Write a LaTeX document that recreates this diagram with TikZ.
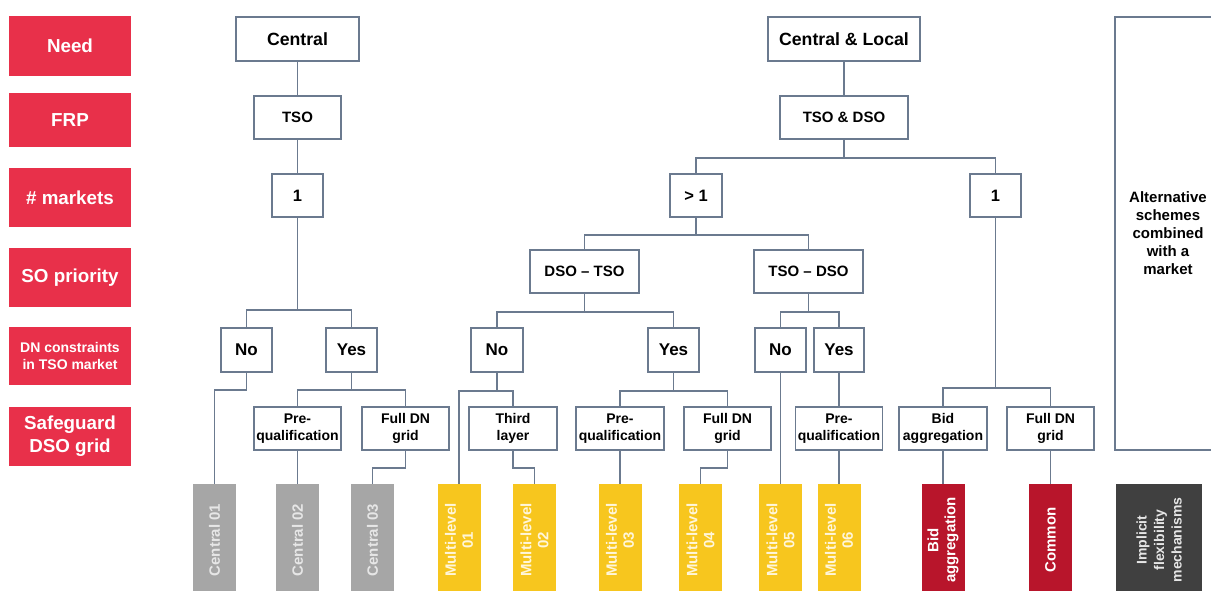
\documentclass[tikz,border=0pt]{standalone}
\usepackage{fontspec}
\setmainfont{Liberation Sans}
\usetikzlibrary{calc}
\definecolor{labelred}{HTML}{E8304A}
\definecolor{linegray}{HTML}{6B7A8F}
\definecolor{bargray}{HTML}{A6A6A6}
\definecolor{baryellow}{HTML}{F7C61E}
\definecolor{barred}{HTML}{B8152B}
\definecolor{bardark}{HTML}{404040}
\definecolor{graytext}{HTML}{E6E6E6}
\definecolor{yellowtext}{HTML}{FFF6DA}

\begin{document}
\begin{tikzpicture}[x=1pt, y=-1pt,
    rowlabel/.style={fill=labelred, text=white, inner sep=0pt, minimum width=122, align=center,
      font=\bfseries\fontsize{18.8}{22.7}\selectfont},
    box/.style={draw=linegray, line width=1.6pt, fill=white, inner sep=0pt, align=center,
      font=\bfseries\fontsize{15}{18}\selectfont},
    needbox/.style={box, minimum height=44, font=\bfseries\fontsize{17.7}{21}\selectfont},
    countbox/.style={box, minimum height=43, font=\bfseries\fontsize{16.5}{20}\selectfont},
    yesno/.style={box, minimum width=51, minimum height=44, font=\bfseries\fontsize{17}{20}\selectfont},
    leafbox/.style={box, minimum width=87, minimum height=43, font=\bfseries\fontsize{14}{16.7}\selectfont},
    bar/.style={rotate=90, inner sep=0pt, minimum width=112, minimum height=43, align=center,
      font=\bfseries\fontsize{15}{17}\selectfont},
    link/.style={draw=linegray, line width=1.6pt}]

    \useasboundingbox (0,0) rectangle (1211,590);
    \clip (0,0) rectangle (1211,590);

    \node[rowlabel, minimum height=60] (need) at (70,46) {Need};
    \node[rowlabel, minimum height=54] (frp) at (70,120) {FRP};
    \node[rowlabel, minimum height=59] (markets) at (70,197.5) {\# markets};
    \node[rowlabel, minimum height=59] (priority) at (70,277.5) {SO priority};
    \node[rowlabel, minimum height=58, font=\bfseries\fontsize{14}{17.3}\selectfont] (constraints) at (70,356) {DN constraints\\in TSO market};
    \node[rowlabel, minimum height=59] (safeguard) at (70,436.5) {Safeguard\\DSO grid};

    \node[needbox, minimum width=123] (central) at (297.5,39) {Central};
    \node[box, minimum width=87, minimum height=43] (tso) at (297.5,117.5) {TSO};
    \node[countbox, minimum width=51] (oneA) at (297.5,195.5) {1};
    \node[yesno] (noA) at (246.5,350) {No};
    \node[yesno] (yesA) at (351.5,350) {Yes};
    \node[leafbox] (preA) at (297.5,428.5) {Pre-\\qualification};
    \node[leafbox] (fullA) at (405.5,428.5) {Full DN\\grid};

    \node[needbox, minimum width=152] (centloc) at (844,39) {Central \& Local};
    \node[box, minimum width=128, minimum height=43] (tsodso) at (844,117.5) {TSO \& DSO};
    \node[countbox, minimum width=52] (more) at (696,195.5) {> 1};
    \node[countbox, minimum width=51] (oneB) at (995.5,195.5) {1};
    \node[box, minimum width=109, minimum height=43] (dsotso) at (584.5,271.5) {DSO -- TSO};
    \node[box, minimum width=109, minimum height=43] (tsodsoB) at (808.5,271.5) {TSO -- DSO};
    \node[yesno, minimum width=52] (noB) at (497,350) {No};
    \node[yesno] (yesB) at (673.5,350) {Yes};
    \node[yesno] (noC) at (780.5,350) {No};
    \node[yesno, minimum width=50] (yesC) at (839,350) {Yes};
    \node[leafbox, minimum width=88] (third) at (513,428.5) {Third\\layer};
    \node[leafbox, minimum width=88] (preB) at (620,428.5) {Pre-\\qualification};
    \node[leafbox] (fullB) at (727.5,428.5) {Full DN\\grid};
    \node[leafbox] (preC) at (839,428.5) {Pre-\\qualification};
    \node[leafbox, minimum width=88] (bid) at (943,428.5) {Bid\\aggregation};
    \node[leafbox] (fullC) at (1050.5,428.5) {Full DN\\grid};
    \node[box, minimum width=106, minimum height=433] (alt) at (1168,233.5) {Alternative\\schemes\\combined\\with a\\market};

    \node[bar, fill=bargray, text=graytext] (c01) at (214.5,540) {Central 01};
    \node[bar, fill=bargray, text=graytext] (c02) at (297.5,540) {Central 02};
    \node[bar, fill=bargray, text=graytext] (c03) at (372.5,540) {Central 03};
    \node[bar, fill=baryellow, text=yellowtext] (m01) at (459,540) {Multi-level\\01};
    \node[bar, fill=baryellow, text=yellowtext] (m02) at (534.5,540) {Multi-level\\02};
    \node[bar, fill=baryellow, text=yellowtext] (m03) at (620,540) {Multi-level\\03};
    \node[bar, fill=baryellow, text=yellowtext] (m04) at (700.5,540) {Multi-level\\04};
    \node[bar, fill=baryellow, text=yellowtext] (m05) at (780.5,540) {Multi-level\\05};
    \node[bar, fill=baryellow, text=yellowtext] (m06) at (839,540) {Multi-level\\06};
    \node[bar, fill=barred, text=white] (bagg) at (943,540) {Bid\\aggregation};
    \node[bar, fill=barred, text=white] (common) at (1050.5,540) {Common};
    \node[bar, minimum height=86, fill=bardark, text=graytext, font=\bfseries\fontsize{14}{17.5}\selectfont] (impl) at (1159,540) {Implicit\\flexibility\\mechanisms};

    \draw[link] (central.south) -- (tso.north);
    \draw[link] (tso.south) -- (oneA.north);
    \draw[link] (oneA.south) -- ++(0,92) -| (noA.north);
    \draw[link] (oneA.south) ++(0,92) -| (yesA.north);
    \draw[link] (noA.south) -- ++(0,17) -| (c01.east);
    \draw[link] (yesA.south) -- ++(0,17) -| (preA.north);
    \draw[link] (yesA.south) ++(0,17) -| (fullA.north);
    \draw[link] (preA.south) -- (c02.east);
    \draw[link] (fullA.south) -- ++(0,17) -| (c03.east);

    \draw[link] (centloc.south) -- (tsodso.north);
    \draw[link] (tsodso.south) -- ++(0,18) -| (more.north);
    \draw[link] (tsodso.south) ++(0,18) -| (oneB.north);
    \draw[link] (more.south) -- ++(0,17) -| (dsotso.north);
    \draw[link] (more.south) ++(0,17) -| (tsodsoB.north);
    \draw[link] (dsotso.south) -- ++(0,18) -| (noB.north);
    \draw[link] (dsotso.south) ++(0,18) -| (yesB.north);
    \draw[link] (tsodsoB.south) -- ++(0,18) -| (noC.north);
    \draw[link] (tsodsoB.south) ++(0,18) -| (yesC.north);
    \draw[link] (noB.south) -- ++(0,18) -| (m01.east);
    \draw[link] (noB.south) ++(0,18) -| (third.north);
    \draw[link] (third.south) -- ++(0,17) -| (m02.east);
    \draw[link] (yesB.south) -- ++(0,18) -| (preB.north);
    \draw[link] (yesB.south) ++(0,18) -| (fullB.north);
    \draw[link] (preB.south) -- (m03.east);
    \draw[link] (fullB.south) -- ++(0,17) -| (m04.east);
    \draw[link] (noC.south) -- (m05.east);
    \draw[link] (yesC.south) -- (preC.north);
    \draw[link] (preC.south) -- (m06.east);
    \draw[link] (oneB.south) -- ++(0,170) -| (bid.north);
    \draw[link] (oneB.south) ++(0,170) -| (fullC.north);
    \draw[link] (bid.south) -- (bagg.east);
    \draw[link] (fullC.south) -- (common.east);
\end{tikzpicture}
\end{document}
